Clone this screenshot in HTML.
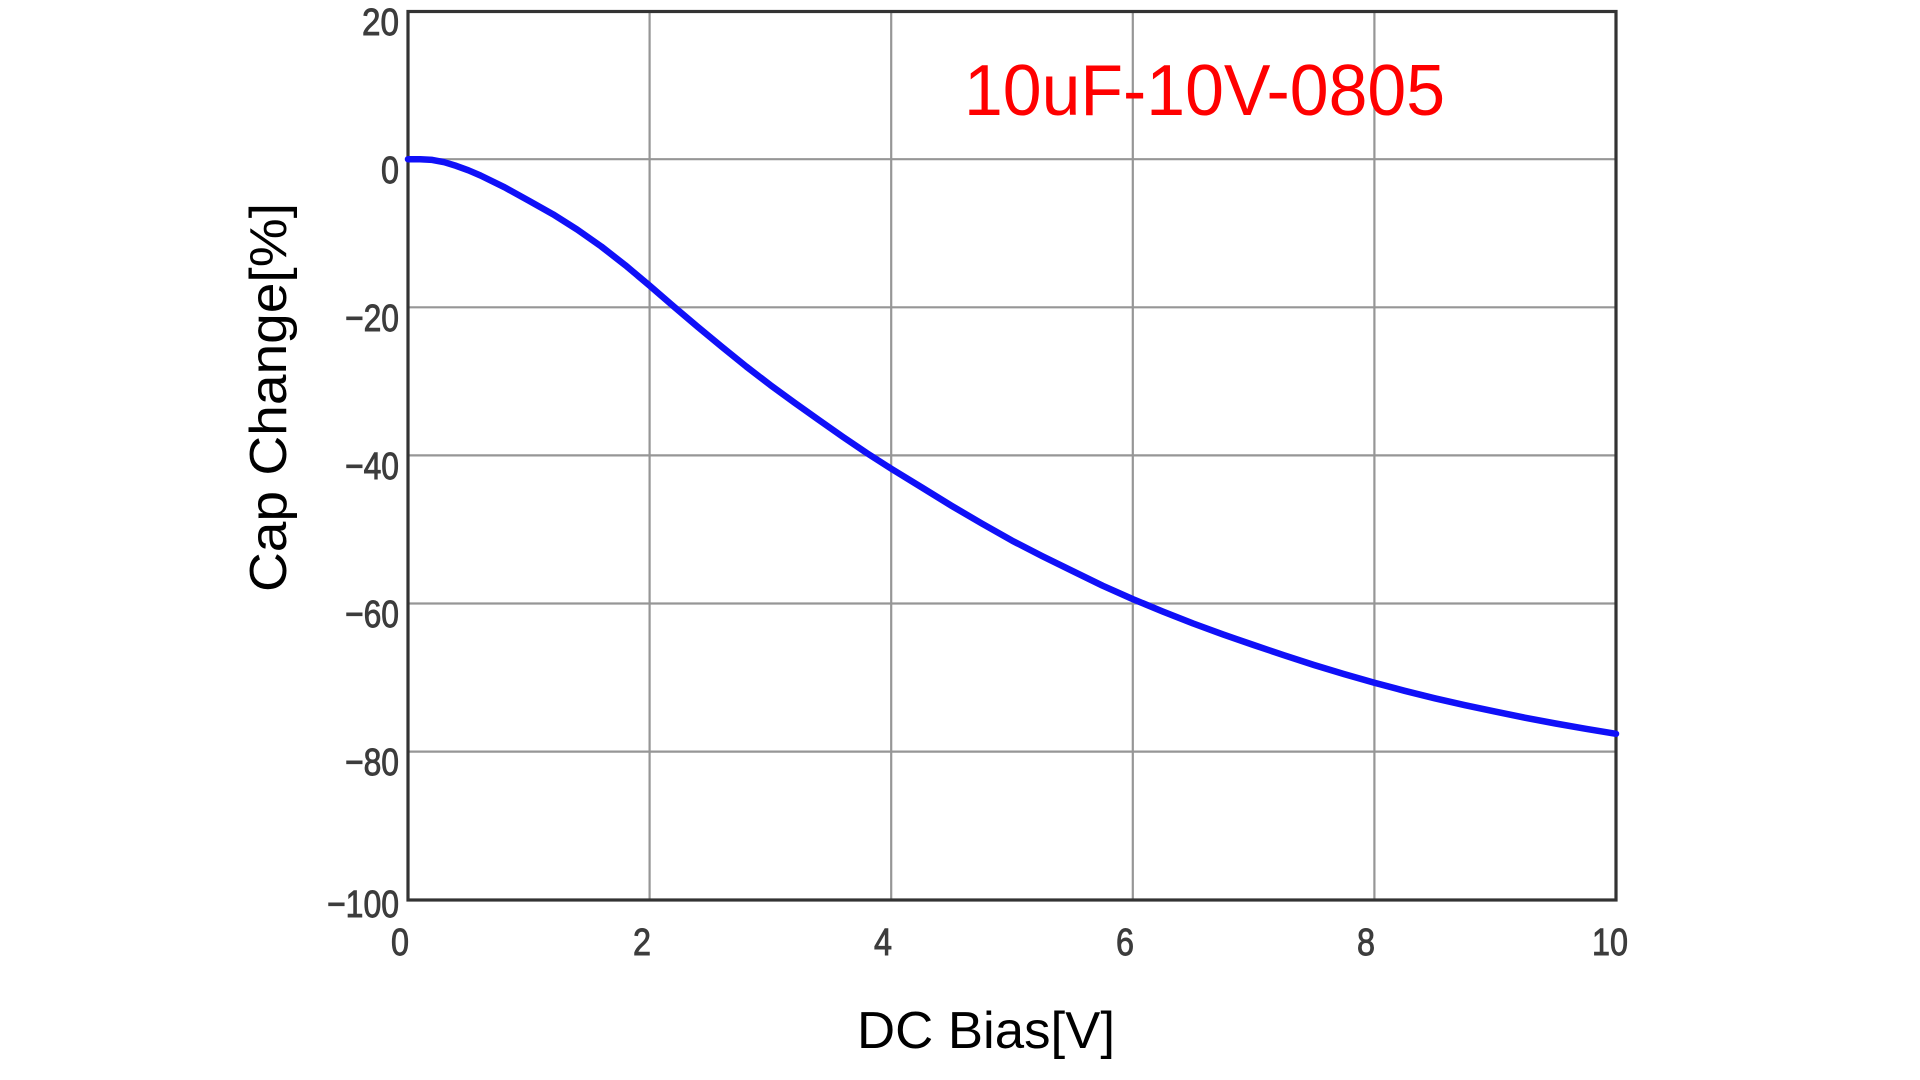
<!DOCTYPE html>
<html>
<head>
<meta charset="utf-8">
<style>
  html, body { margin:0; padding:0; background:#ffffff; }
  body { width:1920px; height:1080px; overflow:hidden; }
  svg { display:block; }
  .tick { font-family:"Liberation Sans", sans-serif; font-size:38px; fill:#3c3c3c; stroke:#3c3c3c; stroke-width:0.9px; }
  .lab { font-family:"Liberation Sans", sans-serif; font-size:52px; fill:#000000; }
</style>
</head>
<body>
<svg width="1920" height="1080" viewBox="0 0 1920 1080" xmlns="http://www.w3.org/2000/svg">
  <rect x="0" y="0" width="1920" height="1080" fill="#ffffff"/>

  <!-- grid lines -->
  <g stroke="#969696" stroke-width="2.2" fill="none">
    <line x1="649.6" y1="11" x2="649.6" y2="900"/>
    <line x1="891.2" y1="11" x2="891.2" y2="900"/>
    <line x1="1132.8" y1="11" x2="1132.8" y2="900"/>
    <line x1="1374.4" y1="11" x2="1374.4" y2="900"/>
    <line x1="408" y1="159.2" x2="1616" y2="159.2"/>
    <line x1="408" y1="307.3" x2="1616" y2="307.3"/>
    <line x1="408" y1="455.4" x2="1616" y2="455.4"/>
    <line x1="408" y1="603.5" x2="1616" y2="603.5"/>
    <line x1="408" y1="751.6" x2="1616" y2="751.6"/>
  </g>

  <!-- plot border -->
  <rect x="408" y="11.5" width="1208" height="888.5" fill="none" stroke="#333333" stroke-width="3.2"/>

  <!-- red annotation -->
  <text x="964" y="115" font-family="Liberation Sans, sans-serif" font-size="72" fill="#ff0000" textLength="481" lengthAdjust="spacingAndGlyphs">10uF-10V-0805</text>

  <!-- curve -->
  <polyline fill="none" stroke="#1010f8" stroke-width="6.5" stroke-linejoin="round" stroke-linecap="round"
    points="408,159.2 420.1,159.2 432.2,159.9 444.2,162.2 456.3,165.9 468.4,170.3 480.5,175.5 504.6,187.3 528.8,200.7 553,214.3 577.1,229.5 601.3,246.5 625.4,265.3 649.6,285.6 673.8,306.6 697.9,327 722.1,347 746.2,366.5 770.4,385.1 794.6,402.8 818.7,419.9 842.9,436.9 867,453.2 891.2,468.7 921.4,487.2 951.6,505.8 981.8,523.5 1012,540.6 1042.2,556.1 1072.4,570.9 1102.6,585.7 1132.8,599.1 1163,611.6 1193.2,623.5 1223.4,634.6 1253.6,645 1283.8,655.2 1314,665 1344.2,674.1 1374.4,682.7 1404.6,690.8 1434.8,698.3 1465,705.2 1495.2,711.6 1525.4,717.8 1555.6,723.5 1585.8,728.8 1616,733.8"/>

  <!-- y tick labels -->
  <g class="tick" text-anchor="end">
    <text x="399" y="35" textLength="37" lengthAdjust="spacingAndGlyphs">20</text>
    <text x="399" y="183" textLength="18" lengthAdjust="spacingAndGlyphs">0</text>
    <text x="399" y="331" textLength="54" lengthAdjust="spacingAndGlyphs">−20</text>
    <text x="399" y="479" textLength="54" lengthAdjust="spacingAndGlyphs">−40</text>
    <text x="399" y="627" textLength="54" lengthAdjust="spacingAndGlyphs">−60</text>
    <text x="399" y="775" textLength="54" lengthAdjust="spacingAndGlyphs">−80</text>
    <text x="399" y="917" textLength="72" lengthAdjust="spacingAndGlyphs">−100</text>
  </g>

  <!-- x tick labels -->
  <g class="tick" text-anchor="middle">
    <text x="400" y="955" textLength="18" lengthAdjust="spacingAndGlyphs">0</text>
    <text x="642" y="955" textLength="18" lengthAdjust="spacingAndGlyphs">2</text>
    <text x="883" y="955" textLength="18" lengthAdjust="spacingAndGlyphs">4</text>
    <text x="1125" y="955" textLength="18" lengthAdjust="spacingAndGlyphs">6</text>
    <text x="1366" y="955" textLength="18" lengthAdjust="spacingAndGlyphs">8</text>
    <text x="1610" y="955" textLength="36" lengthAdjust="spacingAndGlyphs">10</text>
  </g>

  <!-- axis labels -->
  <text class="lab" x="857" y="1048" textLength="258" lengthAdjust="spacingAndGlyphs">DC Bias[V]</text>
  <text class="lab" x="286" y="592" transform="rotate(-90 286 592)" textLength="389" lengthAdjust="spacingAndGlyphs">Cap Change[%]</text>
</svg>
</body>
</html>
